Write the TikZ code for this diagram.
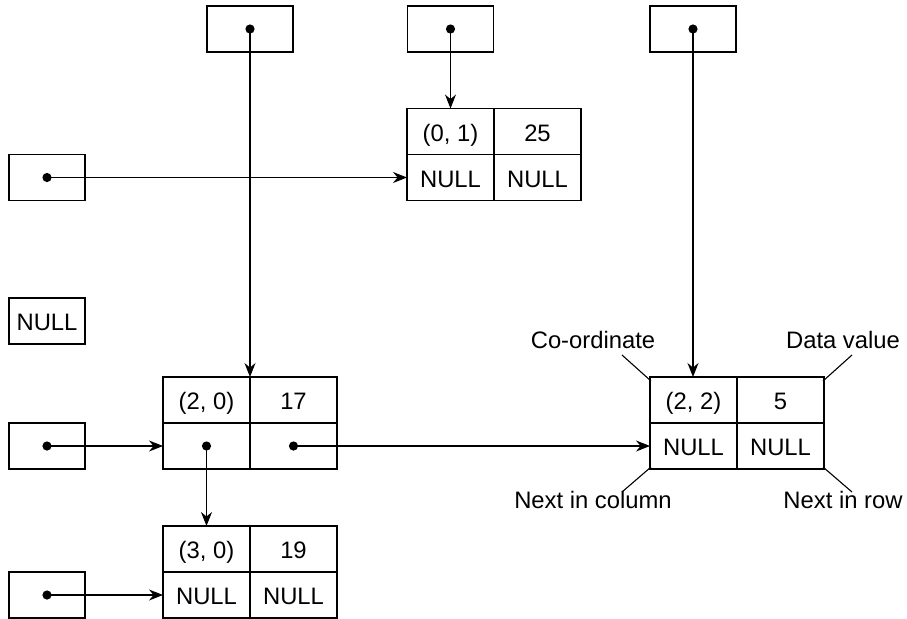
\documentclass[tikz,border=0pt]{standalone}
\usepackage{fontspec}
\setmainfont{Liberation Sans}
\usetikzlibrary{arrows.meta,positioning}

\begin{document}
\begin{tikzpicture}[
  x=0.5pt, y=-0.5pt,
  cell/.style={draw,line width=0.65pt,minimum width=43.5pt,minimum height=23pt,inner sep=0pt,outer sep=0pt,text height=10pt,text depth=0.5pt,font=\fontsize{11.9}{14}\selectfont},
  ptr/.style={cell,minimum width=38pt},
  topptr/.style={cell,minimum width=43pt},
  dot/.style={circle,fill,inner sep=0pt,minimum size=4.6pt},
  lbl/.style={font=\fontsize{11.9}{14}\selectfont},
  arr/.style={-{Stealth[length=7pt,width=5.5pt]},line width=0.55pt},
  tick/.style={line width=0.55pt}
]
\useasboundingbox (0,0) rectangle (907,618);

% list elements: coordinate, value, next in column, next in row
\foreach \n/\x/\y/\co/\val/\nc/\nr in {e01/450.5/131.5/{(0, 1)}/25/NULL/NULL,
    e20/206.5/400/{(2, 0)}/17/{}/{}, e30/206.5/549/{(3, 0)}/19/NULL/NULL,
    e22/693.5/400/{(2, 2)}/5/NULL/NULL}{
  \node[cell] (\n-a) at (\x,\y) {\co};
  \node[cell,right=0pt of \n-a] (\n-b) {\val};
  \node[cell,below=0pt of \n-a] (\n-c) {\nc};
  \node[cell,right=0pt of \n-c] (\n-d) {\nr};
}

% column and row headers
\node[topptr] (col0) at (250,29) {};
\node[topptr] (col1) at (450.5,29) {};
\node[topptr] (col2) at (693,29) {};
\node[ptr] (row0) at (47,177.5) {};
\node[ptr] (row1) at (47,321) {NULL};
\node[ptr] (row2) at (47,446) {};
\node[ptr] (row3) at (47,595) {};

\foreach \p in {col0,col1,col2,row0,row2,row3,e20-c,e20-d}
  \node[dot] (\p-dot) at (\p.center) {};

\draw[arr] (col0-dot.center) -- (e20-a.north east);
\draw[arr] (col1-dot.center) -- (e01-a.north);
\draw[arr] (col2-dot.center) -- (col2-dot.center |- e22-a.north);
\draw[arr] (row0-dot.center) -- (e01-c.west);
\draw[arr] (row2-dot.center) -- (e20-c.west);
\draw[arr] (e20-d-dot.center) -- (e22-c.west);
\draw[arr] (e20-c-dot.center) -- (e30-a.north);
\draw[arr] (row3-dot.center) -- (e30-c.west);

% field labels
\node[lbl] (coord) at (593,340) {Co-ordinate};
\node[lbl] (data) at (843,340) {Data value};
\node[lbl] (nextcol) at (593,500) {Next in column};
\node[lbl] (nextrow) at (843,500) {Next in row};
\draw[tick] ([shift={(-28,-22)}]e22-a.north west) -- ([shift={(1,4)}]e22-a.north west);
\draw[tick] ([shift={(28,-22)}]e22-b.north east) -- ([shift={(-1,4)}]e22-b.north east);
\draw[tick] ([shift={(-28,23)}]e22-c.south west) -- ([shift={(1,-2)}]e22-c.south west);
\draw[tick] ([shift={(28,23)}]e22-d.south east) -- ([shift={(-1,-2)}]e22-d.south east);
\end{tikzpicture}
\end{document}
